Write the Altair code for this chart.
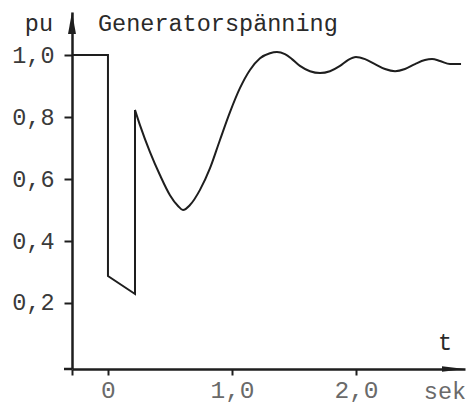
import altair as alt
import pandas as pd

# Axis ranges (seconds, per-unit voltage)
T_DOMAIN = [-0.29, 2.879]
U_DOMAIN = [-0.013, 1.139]

# Fault and switching: steady 1.0 pu, drop at t=0, jump back at ~0.22 s
step_t = [-0.29, 0.0, 0.0, 0.218, 0.218]
step_u = [1.0, 1.0, 0.287, 0.229, 0.823]

# Recovery swing after clearing
swing_t = [0.218, 0.258, 0.339, 0.419, 0.500, 0.565, 0.605, 0.661, 0.742,
           0.823, 0.903, 0.984, 1.065, 1.145, 1.226, 1.306, 1.363, 1.427,
           1.484, 1.548, 1.629, 1.710, 1.790, 1.871, 1.935, 2.000, 2.073,
           2.153, 2.234, 2.315, 2.395, 2.476, 2.556, 2.613, 2.677, 2.758,
           2.847]
swing_u = [0.823, 0.774, 0.687, 0.613, 0.548, 0.513, 0.500, 0.516, 0.565,
           0.635, 0.726, 0.816, 0.894, 0.952, 0.990, 1.006, 1.010, 1.003,
           0.987, 0.965, 0.948, 0.942, 0.948, 0.965, 0.984, 0.994, 0.987,
           0.971, 0.955, 0.948, 0.955, 0.971, 0.984, 0.987, 0.981, 0.971,
           0.971]

y_ticks = [0.2, 0.4, 0.6, 0.8, 1.0]
x_ticks = [-0.29, 0.0, 1.0, 2.0]

FONT = "Liberation Mono"
INK = "#1e1e1e"

step_df = pd.DataFrame({"t": step_t, "u": step_u})
swing_df = pd.DataFrame({"t": swing_t, "u": swing_u})

x_scale = alt.Scale(domain=T_DOMAIN, nice=False, zero=False)
y_scale = alt.Scale(domain=U_DOMAIN, nice=False, zero=False)

x_axis = alt.Axis(
    values=x_ticks,
    labelExpr="datum.value < 0 ? '' : datum.value == 0 ? '0' : "
              "replace(format(datum.value, '.1f'), '.', ',')",
    title=None, grid=False, tickSize=6, tickWidth=2, tickColor=INK,
    domainColor=INK, domainWidth=2.5, labelFont=FONT, labelFontSize=24.5,
    labelColor="#6a6a6a", labelPadding=3, labelFlush=False,
)
y_axis = alt.Axis(
    values=y_ticks,
    labelExpr="replace(format(datum.value, '.1f'), '.', ',')",
    title=None, grid=False, tickSize=8, tickWidth=2, tickColor=INK,
    domainColor=INK, domainWidth=2.5, labelFont=FONT, labelFontSize=23.5,
    labelColor="#3a3a3a", labelPadding=10,
)

# Shared positional encodings so every layer agrees on one pair of axes
X = alt.X("t:Q", scale=x_scale, axis=x_axis)
Y = alt.Y("u:Q", scale=y_scale, axis=y_axis)

step = alt.Chart(step_df).mark_line(color=INK, strokeWidth=2).encode(x=X, y=Y)
swing = alt.Chart(swing_df).mark_line(
    color=INK, strokeWidth=2, interpolate="monotone"
).encode(x=X, y=Y)

# Short overhang of the time axis to the left of the voltage axis
overhang = alt.Chart(pd.DataFrame({"u": [U_DOMAIN[0]]})).mark_rule(
    color=INK, strokeWidth=2.5
).encode(x=alt.value(-8), x2=alt.value(0), y=Y)

# Arrowheads at the ends of both axes
up_arrow = alt.Chart(pd.DataFrame({"t": [T_DOMAIN[0]], "u": [U_DOMAIN[1]]})).mark_point(
    shape="M0,-1L0.36,1L-0.36,1Z", filled=True, opacity=1, size=484,
    color=INK, yOffset=11,
).encode(x=X, y=Y)
right_arrow = alt.Chart(pd.DataFrame({"t": [T_DOMAIN[1]], "u": [U_DOMAIN[0]]})).mark_point(
    shape="M1,0L-1,-0.24L-1,0.24Z", filled=True, opacity=1, size=529,
    color=INK, xOffset=-11.5,
).encode(x=X, y=Y)

def label(text, x, y, align, color, size=23.5):
    return alt.Chart(pd.DataFrame({"s": [text]})).mark_text(
        font=FONT, fontSize=size, align=align, baseline="alphabetic", color=color
    ).encode(text="s:N", x=alt.value(x), y=alt.value(y))

title = label("Generatorspänning", 26, 19, "left", "#2a2a2a")
unit = label("pu", -19, 19, "right", "#2a2a2a")
t_lab = label("t", 373, 338, "center", "#2a2a2a")
sek = label("sek", 373, 387, "center", "#6a6a6a")

chart = alt.layer(
    step, swing, overhang, up_arrow, right_arrow, title, unit, t_lab, sek
).properties(
    width=393, height=357,
    padding={"left": 72, "top": 12, "right": 3, "bottom": 36},
    autosize=alt.AutoSizeParams(type="none"),
    background="white",
).configure_view(stroke=None)

chart.save("out.html", embed_options={"renderer": "svg", "actions": False})
